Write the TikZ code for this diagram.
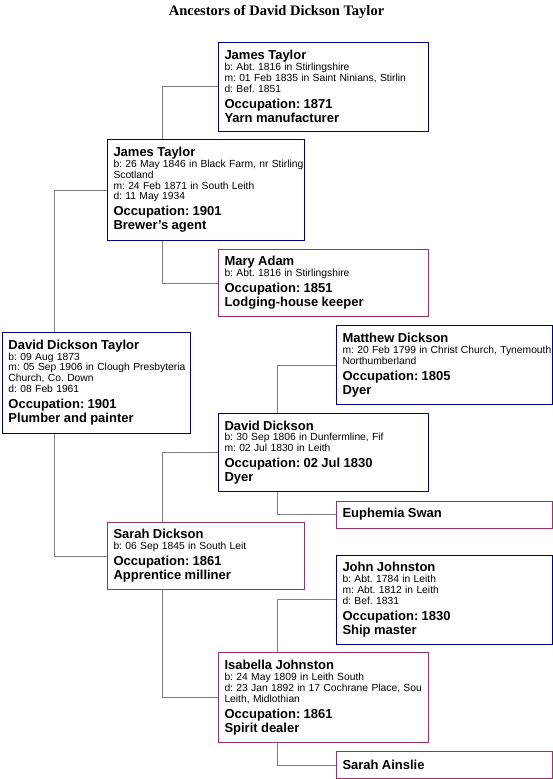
\documentclass[tikz,border=0pt]{standalone}
\usepackage{fontspec}
\setmainfont{Liberation Sans}
\newfontfamily\titlefont{Liberation Serif}
\usepackage{tikz}
\usetikzlibrary{calc}
\definecolor{TreeNavy}{HTML}{000080}
\definecolor{TreeRose}{HTML}{993366}
\definecolor{TreeGray}{HTML}{808080}
\setlength{\parindent}{0pt}
\frenchspacing
\newcommand\famname[1]{{\fontsize{13}{14}\selectfont\bfseries\mbox{#1}\par}}
\newcommand\famfact[1]{{\fontsize{10.3}{10.8}\selectfont\mbox{#1}\par}}
\newcommand\famjob[2]{{\fontsize{13}{16}\selectfont\bfseries\mbox{Occupation: #1}\par
  \fontsize{13}{14}\selectfont\mbox{#2}\par}}

\begin{document}
\begin{tikzpicture}[
    x=1pt, y=-1pt,
    person/.style={
      anchor=north west,
      line width=1pt,
      fill=white,
      align=left,
      inner xsep=6pt,
      inner ysep=0pt,
      text width=#1
    },
    male/.style={person=#1, draw=TreeNavy},
    female/.style={person=#1, draw=TreeRose},
    link/.style={draw=TreeGray, line width=1pt}
  ]
  \useasboundingbox[fill=white] (0,0) rectangle (553,779);

  \node[anchor=base, font={\fontsize{14.5}{16}\selectfont\titlefont\bfseries}]
    (title) at (276.5,15) {Ancestors of David Dickson Taylor};

  % generation 1
  \node[male=176pt, minimum height=101pt] (ddt) at (2,331.5) {%
    \famname{David Dickson Taylor}
    \famfact{b: 09 Aug 1873}
    \famfact{m: 05 Sep 1906 in Clough Presbyteria}
    \famfact{Church, Co. Down}
    \famfact{d: 08 Feb 1961}
    \famjob{1901}{Plumber and painter}};

  % generation 2
  \node[male=185pt, minimum height=101pt] (jtf) at (107,139) {%
    \famname{James Taylor}
    \famfact{b: 26 May 1846 in Black Farm, nr Stirling}
    \famfact{Scotland}
    \famfact{m: 24 Feb 1871 in South Leith}
    \famfact{d: 11 May 1934}
    \famjob{1901}{Brewer's agent}};
  \node[female=185pt, minimum height=67pt] (sdickson) at (107,522) {%
    \famname{Sarah Dickson}
    \famfact{b: 06 Sep 1845 in South Leit}
    \famjob{1861}{Apprentice milliner}};

  % generation 3
  \node[male=198pt, minimum height=89pt] (jtgf) at (218,41.5) {%
    \famname{James Taylor}
    \famfact{b: Abt. 1816 in Stirlingshire}
    \famfact{m: 01 Feb 1835 in Saint Ninians, Stirlin}
    \famfact{d: Bef. 1851}
    \famjob{1871}{Yarn manufacturer}};
  \node[female=198pt, minimum height=67pt] (madam) at (218,249) {%
    \famname{Mary Adam}
    \famfact{b: Abt. 1816 in Stirlingshire}
    \famjob{1851}{Lodging-house keeper}};
  \node[male=198pt, minimum height=78pt] (ddickson) at (218,413) {%
    \famname{David Dickson}
    \famfact{b: 30 Sep 1806 in Dunfermline, Fif}
    \famfact{m: 02 Jul 1830 in Leith}
    \famjob{02 Jul 1830}{Dyer}};
  \node[female=198pt, minimum height=90pt] (ijohnston) at (218,652) {%
    \famname{Isabella Johnston}
    \famfact{b: 24 May 1809 in Leith South}
    \famfact{d: 23 Jan 1892 in 17 Cochrane Place, Sou}
    \famfact{Leith, Midlothian}
    \famjob{1861}{Spirit dealer}};

  % generation 4
  \node[male=204pt, minimum height=79pt] (mdickson) at (336,325) {%
    \famname{Matthew Dickson}
    \famfact{m: 20 Feb 1799 in Christ Church, Tynemouth}
    \famfact{Northumberland}
    \famjob{1805}{Dyer}};
  \node[female=204pt, minimum height=27pt] (eswan) at (336,500.5) {\famname{Euphemia Swan}};
  \node[male=204pt, minimum height=89pt] (jjohnston) at (336,554.5) {%
    \famname{John Johnston}
    \famfact{b: Abt. 1784 in Leith}
    \famfact{m: Abt. 1812 in Leith}
    \famfact{d: Bef. 1831}
    \famjob{1830}{Ship master}};
  \node[female=204pt, minimum height=27pt] (sainslie) at (336,751) {\famname{Sarah Ainslie}};

  % fathers leave from the top, mothers from the bottom
  \foreach \kid/\dad in {jtf/jtgf, ddt/jtf, ddickson/mdickson, sdickson/ddickson, ijohnston/jjohnston} {
    \coordinate (mid) at ($(\kid.west)!.5!(\dad.west)$);
    \draw[link] (\kid.north -| mid) |- (\dad.west);
  }
  \foreach \kid/\mum in {jtf/madam, ddt/sdickson, ddickson/eswan, sdickson/ijohnston, ijohnston/sainslie} {
    \coordinate (mid) at ($(\kid.west)!.5!(\mum.west)$);
    \draw[link] (\kid.south -| mid) |- (\mum.west);
  }
\end{tikzpicture}
\end{document}
